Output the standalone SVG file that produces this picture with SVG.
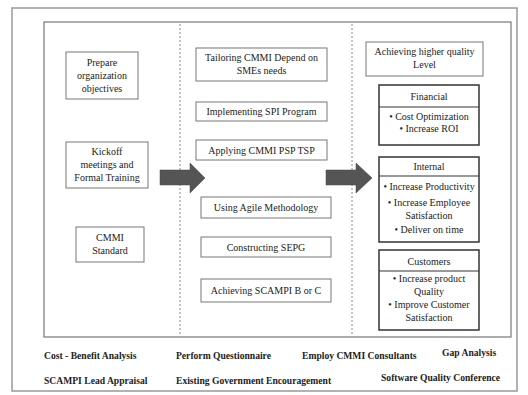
<svg xmlns="http://www.w3.org/2000/svg" width="528" height="395" viewBox="0 0 528 395">
<style>
text{font-family:"Liberation Serif","Times New Roman",serif;font-size:10px;fill:#222;text-anchor:middle}
.b{fill:#fff;stroke:#777;stroke-width:1}
.k{fill:#fff;stroke:#333;stroke-width:1.5}
.ft{font-weight:bold;font-size:9.6px;text-anchor:start}
.arr{fill:#555;stroke:#444;stroke-width:0.5}
</style>
<rect x="0" y="0" width="528" height="395" fill="#fff"/>
<rect x="12" y="8" width="505" height="383" fill="none" stroke="#999" stroke-width="1.5"/>
<rect x="44" y="22" width="467" height="315" fill="none" stroke="#777" stroke-width="1.2"/>
<line x1="180" y1="24" x2="180" y2="336" stroke="#888" stroke-dasharray="2,2"/>
<line x1="352" y1="24" x2="352" y2="336" stroke="#888" stroke-dasharray="2,2"/>
<g id="n1"><rect class="b" x="66" y="52" width="72" height="47"/><text x="102" y="66">Prepare</text><text x="102" y="79">organization</text><text x="102" y="92">objectives</text></g>
<g id="n2"><rect class="b" x="66" y="142" width="82" height="46"/><text x="107" y="155">Kickoff</text><text x="107" y="168">meetings and</text><text x="107" y="181">Formal Training</text></g>
<g id="n3"><rect class="b" x="76" y="227" width="68" height="35"/><text x="110" y="241">CMMI</text><text x="110" y="254">Standard</text></g>
<g id="n4"><rect class="b" x="196" y="48" width="131" height="33"/><text x="261.5" y="61">Tailoring CMMI Depend on</text><text x="261.5" y="74">SMEs needs</text></g>
<g id="n5"><rect class="b" x="196" y="102" width="131" height="19"/><text x="261.5" y="115">Implementing SPI Program</text></g>
<g id="n6"><rect class="b" x="196" y="140" width="131" height="20"/><text x="261.5" y="153.5">Applying CMMI PSP TSP</text></g>
<g id="n7"><rect class="b" x="201" y="197" width="130" height="21"/><text x="266" y="211">Using Agile Methodology</text></g>
<g id="n8"><rect class="b" x="201" y="237" width="130" height="20"/><text x="266" y="250.5">Constructing SEPG</text></g>
<g id="n9"><rect class="b" x="201" y="279" width="130" height="23"/><text x="266" y="294">Achieving SCAMPI B or C</text></g>
<g id="n10"><rect class="b" x="366" y="42" width="117" height="34"/><text x="424.5" y="55">Achieving higher quality</text><text x="424.5" y="68">Level</text></g>
<g id="n11"><rect class="k" x="379" y="85" width="100" height="60"/><line x1="379" y1="107" x2="479" y2="107" stroke="#333" stroke-width="1.2"/><text x="429" y="100">Financial</text><text x="429" y="120">• Cost Optimization</text><text x="429" y="132">• Increase ROI</text></g>
<g id="n12"><rect class="k" x="379" y="157" width="100" height="85"/><line x1="379" y1="176" x2="479" y2="176" stroke="#333" stroke-width="1.2"/><text x="429" y="170">Internal</text><text x="429" y="190">• Increase Productivity</text><text x="429" y="206">• Increase Employee</text><text x="429" y="219">Satisfaction</text><text x="429" y="233">• Deliver on time</text></g>
<g id="n13"><rect class="k" x="379" y="250" width="100" height="80"/><line x1="379" y1="271" x2="479" y2="271" stroke="#333" stroke-width="1.2"/><text x="429" y="265">Customers</text><text x="429" y="282">• Increase product</text><text x="429" y="295">Quality</text><text x="429" y="308">• Improve Customer</text><text x="429" y="321">Satisfaction</text></g>
<g id="connectors">
<path class="arr" d="M160,170 H190 V163 L205,178 L190,193 V185 H160 Z"/>
<path class="arr" d="M326,170 H356 V163 L372,178 L356,193 V185 H326 Z"/>
</g>
<g id="footer">
<text class="ft" x="44" y="359">Cost - Benefit Analysis</text>
<text class="ft" x="176" y="359">Perform Questionnaire</text>
<text class="ft" x="302" y="359">Employ CMMI Consultants</text>
<text class="ft" x="442" y="356">Gap Analysis</text>
<text class="ft" x="44" y="384">SCAMPI Lead Appraisal</text>
<text class="ft" x="176" y="384">Existing Government Encouragement</text>
<text class="ft" x="381" y="381">Software Quality Conference</text>
</g>
</svg>
